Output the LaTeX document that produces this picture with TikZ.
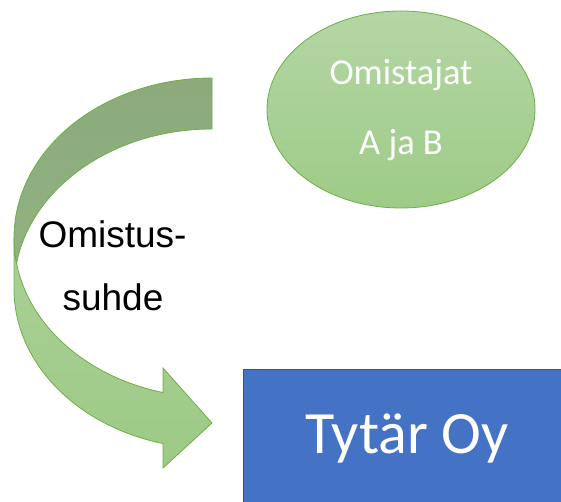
\documentclass[tikz,border=0pt]{standalone}
\usepackage{fontspec}
\setmainfont{Carlito}
\newfontfamily\arialfont{Liberation Sans}
\usetikzlibrary{shapes.geometric}

\definecolor{ovaltop}{HTML}{B4D6A4}
\definecolor{ovalbottom}{HTML}{9ECB88}
\definecolor{greenline}{HTML}{70AD47}
\definecolor{bodytop}{HTML}{A9D096}
\definecolor{bodybottom}{HTML}{9DCA86}
\definecolor{bandtop}{HTML}{8CAA7C}
\definecolor{bandbottom}{HTML}{91B282}
\definecolor{boxfill}{HTML}{4472C4}
\definecolor{boxline}{HTML}{2F528F}

\tikzset{
  arrowbody/.style={draw=greenline, line width=0.8pt, top color=bodytop, bottom color=bodybottom},
  arrowband/.style={draw=greenline, line width=0.8pt, top color=bandtop, bottom color=bandbottom},
  oval/.style={ellipse, draw=greenline, line width=0.8pt, inner sep=0pt,
    minimum width=268pt, minimum height=197pt, top color=ovaltop, bottom color=ovalbottom},
  ovaltext/.style={anchor=base, text=white, font=\fontsize{36.5}{40}\selectfont},
  companybox/.style={rectangle, draw=boxline, line width=1.2pt, fill=boxfill,
    anchor=north west, inner sep=0pt, minimum width=340pt, minimum height=150pt},
  boxtext/.style={anchor=base, text=white, font=\fontsize{60}{66}\selectfont},
  relation/.style={anchor=base, text=black, font=\arialfont\fontsize{37}{44}\selectfont},
}

\begin{document}
\begin{tikzpicture}[x=1pt, y=1pt]
\useasboundingbox (0,0) rectangle (561,501);
\clip (0,0) rectangle (561,501);

% curved arrow: two equal ellipses (rx 198, ry 159.75), centres (212,263.25) and (212,212.25)
% front part with the head
\path[arrowbody] (14,263.25)
  arc[start angle=180, end angle=255.67, x radius=198, y radius=159.75]
  -- (163,133) -- (212,78) -- (163,33) -- (163,57.47)
  arc[start angle=255.67, end angle=180, x radius=198, y radius=159.75]
  -- cycle;
% darker back part
\path[arrowband] (212,372)
  arc[start angle=90, end angle=170.815, x radius=198, y radius=159.75]
  arc[start angle=189.185, end angle=90, x radius=198, y radius=159.75]
  -- cycle;

% owners
\node[oval] (owners) at (401,391.5) {};
\node[ovaltext] (ownersA) at (401,416) {Omistajat};
\node[ovaltext] (ownersB) at (401,346) {A ja B};

% subsidiary
\node[companybox] (subsidiary) at (243,132) {};
\node[boxtext] (subsidiarytext) at (407,48) {Tytär Oy};

% arrow label
\node[relation] (relA) at (112.5,254) {Omistus-};
\node[relation] (relB) at (113,191) {suhde};
\end{tikzpicture}
\end{document}
